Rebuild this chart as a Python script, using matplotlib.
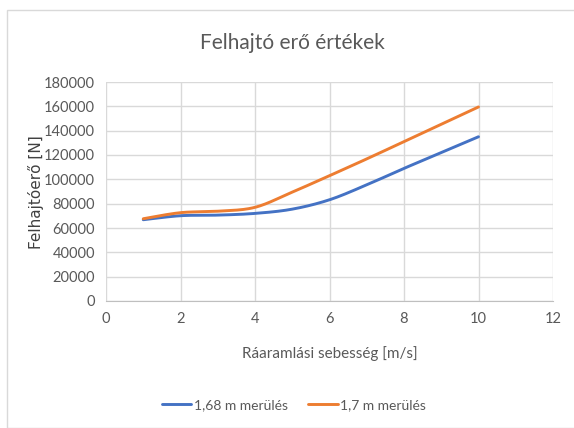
import numpy as np
import matplotlib
matplotlib.use("Agg")
import matplotlib.pyplot as plt
from matplotlib.patches import Rectangle

speed = [1, 2, 3, 4, 5, 6, 7, 8, 9, 10]
force_168 = [66800, 70100, 70600, 72000, 75500, 83200, 95500, 109000, 122000, 135000]
force_17 = [67600, 72600, 73800, 77000, 89500, 103000, 116800, 131000, 145300, 159500]
series_names = ["1,68 m merülés", "1,7 m merülés"]
title = "Felhajtó erő értékek"
xlabel = "Ráaramlási sebesség [m/s]"
ylabel = "Felhajtóerő [N]"


def smooth(x, y, n=30):
    x = np.asarray(x, float)
    y = np.asarray(y, float)
    px = np.concatenate([[x[0]], x, [x[-1]]])
    py = np.concatenate([[y[0]], y, [y[-1]]])
    xs, ys = [], []
    t = np.linspace(0, 1, n)
    for i in range(1, len(px) - 2):
        p0 = np.array([px[i], py[i]])
        p3 = np.array([px[i + 1], py[i + 1]])
        p1 = p0 + (np.array([px[i + 1], py[i + 1]]) - np.array([px[i - 1], py[i - 1]])) / 6
        p2 = p3 - (np.array([px[i + 2], py[i + 2]]) - np.array([px[i], py[i]])) / 6
        b = ((1 - t) ** 3)[:, None] * p0 + (3 * (1 - t) ** 2 * t)[:, None] * p1 \
            + (3 * (1 - t) * t ** 2)[:, None] * p2 + (t ** 3)[:, None] * p3
        xs.append(b[:, 0])
        ys.append(b[:, 1])
    return np.concatenate(xs), np.concatenate(ys)


plt.rcParams['font.family'] = ['Lato', 'DejaVu Sans']
fig = plt.figure(figsize=(5.74, 4.28), dpi=100)
fig.patches.append(Rectangle((6.5 / 574, 0), 1, 1 - 9.5 / 428, transform=fig.transFigure,
                             fill=False, edgecolor="#d9d9d9", linewidth=1.0))
ax = fig.add_axes([106 / 574, 1 - 301 / 428, 447 / 574, 219 / 428])

colors = ["#4472c4", "#ed7d31"]
for ys, c, name in zip([force_168, force_17], colors, series_names):
    sx, sy = smooth(speed, ys)
    ax.plot(sx, sy, color=c, linewidth=2.1, label=name, solid_capstyle="round")

ax.set_xlim(0, 12)
ax.set_ylim(0, 180000)
ax.set_xticks(range(0, 13, 2))
ax.set_yticks(range(0, 180001, 20000))
ax.grid(True, color="#d9d9d9", linewidth=1.0)
ax.set_axisbelow(True)
for s in ["top", "right", "left"]:
    ax.spines[s].set_visible(False)
ax.spines["bottom"].set_color("#bfbfbf")
ax.tick_params(length=0, colors="#595959", labelsize=10.5, pad=8)

fig.text(292 / 574, 1 - 43 / 428, title, ha="center", va="center",
         fontsize=15, color="#595959")
fig.text(330 / 574, 1 - 354 / 428, xlabel, ha="center", va="center",
         fontsize=11, color="#595959")
fig.text(36 / 574, 1 - 192 / 428, ylabel, ha="center", va="center", rotation=90,
         fontsize=11, color="#404040", family=["DejaVu Sans"])

leg = fig.legend(loc="center", bbox_to_anchor=(294 / 574, 1 - 405 / 428), ncol=2,
                 frameon=False, fontsize=10, handlelength=2.1, columnspacing=1.5,
                 handletextpad=0.2)
for t in leg.get_texts():
    t.set_color("#595959")

fig.savefig("out.png", dpi=100)
